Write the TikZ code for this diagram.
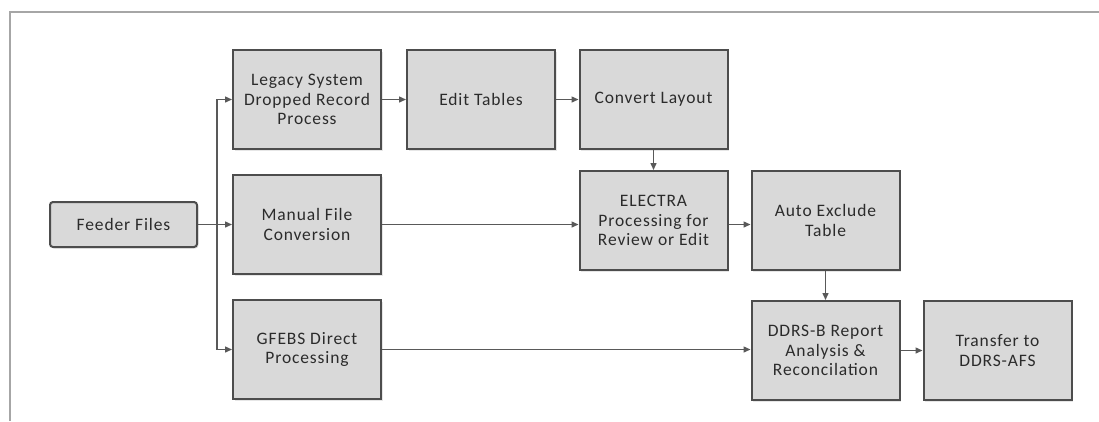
\documentclass[tikz,border=0pt]{standalone}
\usepackage{fontspec}
\setmainfont{Carlito}[LetterSpace=5]
\usetikzlibrary{positioning,arrows.meta,shadows}
\definecolor{boxfill}{HTML}{D9D9D9}
\definecolor{boxline}{HTML}{4D4D4D}
\definecolor{arrowline}{HTML}{595959}
\definecolor{frameline}{HTML}{A6A6A6}
\definecolor{textgray}{HTML}{2B2B2B}

\begin{document}
\begin{tikzpicture}[x=1pt, y=-1pt,
    >={Triangle[length=7pt,width=6pt]},
    proc/.style={draw=boxline, fill=boxfill, line width=2pt,
        minimum width=148pt, minimum height=99pt, inner sep=2pt,
        align=center, text=textgray, font=\fontsize{17.5}{19.5}\selectfont,
        drop shadow={shadow xshift=1.5pt, shadow yshift=-1.5pt, opacity=0.2}},
    flow/.style={->, draw=arrowline, line width=1.4pt}]
    \useasboundingbox (0,0) rectangle (1099,421);
    % frame
    \draw[frameline, line width=1.2pt] (10,421) -- (10,12) -- (1099,12);

    \node[proc, minimum width=147pt, minimum height=45pt, rounded corners=3pt] (feeder) at (123.5,224.5) {Feeder Files};
    \node[proc] (manual) [right=34pt of feeder] {Manual File\\Conversion};
    \node[proc] (legacy) [above=24pt of manual] {Legacy System\\Dropped Record\\Process};
    \node[proc] (gfebs) [below=24pt of manual] {GFEBS Direct\\Processing};
    \node[proc] (edit) [right=24pt of legacy] {Edit Tables};
    \node[proc] (convert) [right=22.5pt of edit] {Convert Layout};
    \node[proc] (electra) [below=20pt of convert] {ELECTRA\\Processing for\\Review or Edit};
    \node[proc] (autoex) [right=22pt of electra] {Auto Exclude\\Table};
    \node[proc] (ddrsb) [below=29pt of autoex] {DDRS-B Report\\Analysis \&\\Reconcilation};
    \node[proc] (transfer) [right=22pt of ddrsb] {Transfer to\\DDRS-AFS};

    \coordinate[right=19pt of feeder.east] (split);
    \draw[flow] (feeder) -- (manual);
    \draw[flow] (split) |- (legacy);
    \draw[flow] (split) |- (gfebs);
    \draw[flow] (legacy) -- (edit);
    \draw[flow] (edit) -- (convert);
    \draw[flow] (convert) -- (electra);
    \draw[flow] (manual) -- (manual -| electra.west);
    \draw[flow] (electra.east |- manual) -- (autoex.west |- manual);
    \draw[flow] (autoex) -- (ddrsb);
    \draw[flow] (gfebs) -- (gfebs -| ddrsb.west);
    \draw[flow] (ddrsb) -- (transfer);
\end{tikzpicture}
\end{document}
